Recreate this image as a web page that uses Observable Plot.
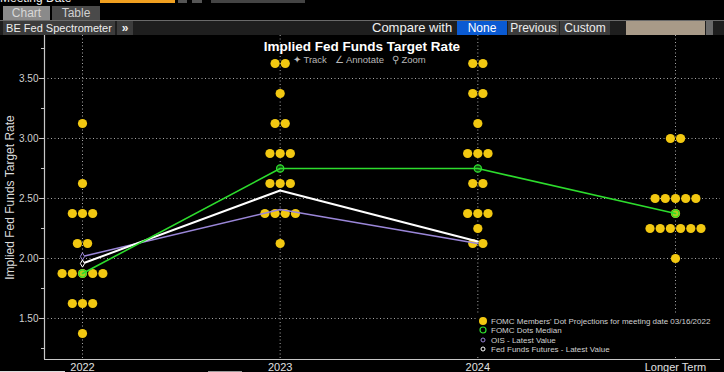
<!DOCTYPE html>
<html>
<head>
<meta charset="utf-8">
<script src="https://cdn.jsdelivr.net/npm/d3@7"></script>
<script src="https://cdn.jsdelivr.net/npm/@observablehq/plot@0.6"></script>
<style>
  html, body { margin:0; padding:0; background:#000; }
  body { width:724px; height:372px; overflow:hidden; position:relative; font-family:"Liberation Sans", Arial, sans-serif; }
  .abs { position:absolute; }
  .btn { position:absolute; top:21px; height:14px; line-height:14px; font-size:12px; color:#eee; background:#3c3c3c; text-align:center; white-space:nowrap; }
  .leg { position:absolute; left:476px; top:314px; width:246px; height:43px; background:#000; font-size:8px; color:#d0d0d0; }
  .leg div { position:absolute; left:15px; height:9px; line-height:9px; white-space:nowrap; }
  .leg svg { position:absolute; left:0; top:0; }
</style>
</head>
<body>
<div id="chart" class="abs" style="left:0;top:0"></div>

<!-- top strip (cut off, as in the reference) -->
<div class="abs" style="left:0;top:-8px;font-size:12px;line-height:12px;color:#eee;white-space:nowrap">Meeting Date</div>
<div class="abs" style="left:100px;top:0;width:75px;height:3px;background:#f0a020"></div>
<div class="abs" style="left:178px;top:0;width:9px;height:3px;background:#555"></div>
<div class="abs" style="left:192px;top:0;width:10px;height:3px;background:#555"></div>
<div class="abs" style="left:211px;top:0;width:94px;height:3px;background:#444"></div>
<!-- tabs -->
<div class="abs" style="left:3px;top:6px;width:47px;height:14px;background:#8a8a8a;color:#d8d8d8;font-size:12px;line-height:14px;text-align:center">Chart</div>
<div class="abs" style="left:52px;top:6px;width:48px;height:14px;background:#4a4a4a;color:#d0d0d0;font-size:12px;line-height:14px;text-align:center">Table</div>
<div class="abs" style="left:0;top:20px;width:724px;height:1px;background:#6a6a6a"></div>
<!-- toolbar -->
<div class="abs" style="left:0;top:21px;width:724px;height:14px;background:#1e1e1e"></div>
<div class="btn" style="left:3px;width:112px;font-size:11px">BE Fed Spectrometer</div>
<div class="btn" style="left:117px;width:16px;font-weight:bold">»</div>
<div class="abs" style="left:372px;top:20px;font-size:13px;line-height:16px;color:#f2f2f2;white-space:nowrap">Compare with</div>
<div class="btn" style="left:457px;width:50px;background:#0a5ad2;color:#fff">None</div>
<div class="btn" style="left:508px;width:51px">Previous</div>
<div class="btn" style="left:560px;width:50px">Custom</div>
<div class="abs" style="left:626px;top:21px;width:79px;height:14px;background:#a89a88"></div>
<div class="abs" style="left:706px;top:21px;width:7px;height:14px;background:#6a6a6a"></div>

<!-- title -->
<div class="abs" style="left:0;top:39px;width:724px;text-align:center;font-size:13.5px;font-weight:bold;color:#fff">Implied Fed Funds Target Rate</div>
<div class="abs" style="left:293px;top:54px;font-size:9.5px;color:#b8b8b8;white-space:nowrap">✦ Track&nbsp;&nbsp;&nbsp;∠ Annotate&nbsp;&nbsp;&nbsp;⚲ Zoom</div>

<!-- legend -->
<div class="leg">
  <svg width="16" height="43">
    <circle cx="7" cy="7" r="4" fill="#f2c811"/>
    <circle cx="7" cy="16" r="3" fill="none" stroke="#2ddc2d" stroke-width="1.2"/>
    <circle cx="7" cy="26" r="2" fill="none" stroke="#9a86d8" stroke-width="1"/>
    <circle cx="7" cy="35" r="2" fill="none" stroke="#fff" stroke-width="1"/>
  </svg>
  <div style="top:3px">FOMC Members' Dot Projections for meeting date 03/16/2022</div>
  <div style="top:12px">FOMC Dots Median</div>
  <div style="top:22px">OIS - Latest Value</div>
  <div style="top:31px">Fed Funds Futures - Latest Value</div>
</div>

<div class="abs" style="left:0;top:371px;width:65px;height:1px;background:#ddd"></div>
<div class="abs" style="left:208px;top:371px;width:34px;height:1px;background:#999"></div>

<script>
const categories = ["2022", "2023", "2024", "Longer Term"];
const yTicks = [1.5, 2.0, 2.5, 3.0, 3.5];
const yMinorTicks = [1.25, 1.75, 2.25, 2.75, 3.25, 3.75];

// FOMC dot projections: [rate, number of participants]
const dots2022 = [[3.125,1],[2.625,1],[2.375,3],[2.125,2],[1.875,5],[1.625,3],[1.375,1]];
const dots2023 = [[3.625,2],[3.375,1],[3.125,2],[2.875,3],[2.625,3],[2.375,4],[2.125,1]];
const dots2024 = [[3.625,2],[3.375,2],[3.125,1],[2.875,3],[2.625,2],[2.375,3],[2.25,1],[2.125,2]];
const dotsLonger = [[3.0,2],[2.5,5],[2.375,1],[2.25,6],[2.0,1]];

const medianDots = [1.875, 2.75, 2.75, 2.375];
const oisLatest = [2.017, 2.408, 2.125];
const futuresLatest = [1.958, 2.567, 2.142];

const dotGroups = [dots2022, dots2023, dots2024, dotsLonger];
const spread = 0.0516; // horizontal spacing between dots in a row (x units)
const dotData = [];
dotGroups.forEach((g, i) => {
  g.forEach(([rate, n]) => {
    for (let k = 0; k < n; k++) dotData.push({x: i + (k - (n - 1) / 2) * spread, y: rate});
  });
});
const medianData = medianDots.map((v, i) => ({x: i, y: v}));
const oisData = oisLatest.map((v, i) => ({x: i, y: v}));
const futData = futuresLatest.map((v, i) => ({x: i, y: v}));

const xMin = -0.19224, xMax = 3.22765, yMin = 1.15833, yMax = 3.85833;
const gridStyle = {stroke: "#a8a8a8", strokeOpacity: 1, strokeWidth: 1, strokeDasharray: "1,2.5"};

const chart = Plot.plot({
  width: 724,
  height: 372,
  marginTop: 35,
  marginBottom: 13,
  marginLeft: 44,
  marginRight: 4,
  style: {background: "transparent", color: "#d0d0d0", fontFamily: "Liberation Sans, Arial, sans-serif", fontSize: "10px", overflow: "visible"},
  x: {type: "linear", domain: [xMin, xMax]},
  y: {type: "linear", domain: [yMin, yMax]},
  marks: [
    Plot.gridY(yTicks, gridStyle),
    Plot.gridX([0, 1, 2, 3], gridStyle),
    Plot.axisY(yMinorTicks, {tickSize: 3, tickFormat: () => "", label: null, stroke: "#c8c8c8"}),
    Plot.axisY(yTicks, {tickSize: 5, tickPadding: 1, tickFormat: d => d.toFixed(2), label: null, stroke: "#c8c8c8", fill: "#d0d0d0"}),
    Plot.axisX([0, 1, 2, 3], {tickSize: 0, tickPadding: 4, tickFormat: i => categories[i], label: null, fontSize: 11, fill: "#e0e0e0"}),
    Plot.ruleY([yMin], {stroke: "#c8c8c8", strokeWidth: 1.2}),
    Plot.ruleX([xMin], {stroke: "#c8c8c8", strokeWidth: 1.2}),
    Plot.text(["Implied Fed Funds Target Rate"], {frameAnchor: "left", textAnchor: "middle", rotate: -90, dx: -34, fontSize: 12, fill: "#dcdcdc"}),
    Plot.dot(dotData, {x: "x", y: "y", r: 4.6, fill: "#f2c811", stroke: "none"}),
    Plot.line(oisData, {x: "x", y: "y", stroke: "#9a86d8", strokeWidth: 1.6}),
    Plot.line(futData, {x: "x", y: "y", stroke: "#ffffff", strokeWidth: 2}),
    Plot.line(medianData, {x: "x", y: "y", stroke: "#2ddc2d", strokeWidth: 1.6}),
    Plot.dot(oisData.slice(0, 1), {x: "x", y: "y", r: 2.2, symbol: "diamond", stroke: "#9a86d8", fill: "#000", strokeWidth: 1}),
    Plot.dot(futData.slice(0, 1), {x: "x", y: "y", r: 2.2, symbol: "diamond", stroke: "#ffffff", fill: "#000", strokeWidth: 1}),
    Plot.dot(medianData, {x: "x", y: "y", r: 3.6, fill: "#2ddc2d", fillOpacity: 0.35, stroke: "#2ddc2d", strokeWidth: 1.3})
  ]
});
document.getElementById("chart").appendChild(chart);
</script>
</body>
</html>
